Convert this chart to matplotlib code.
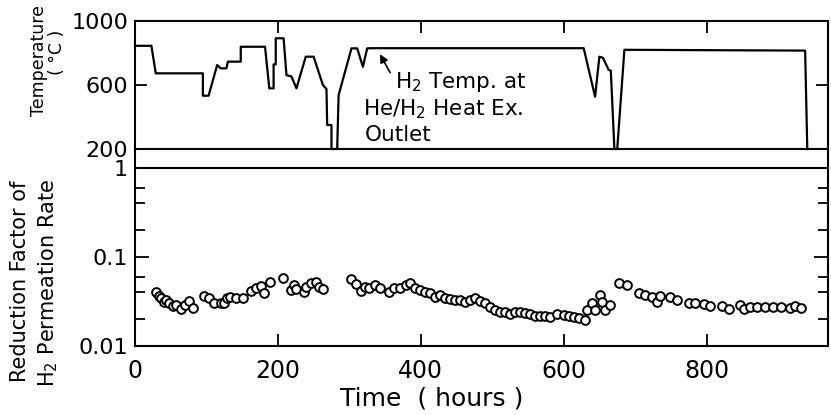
import matplotlib
matplotlib.use("Agg")
import matplotlib.pyplot as plt
from matplotlib.lines import Line2D
from matplotlib.ticker import FixedLocator, NullFormatter

# temperature trace (hours, deg C)
temp_hours = [0, 23, 29, 95, 95, 103, 115, 120, 128, 130, 148, 148, 182, 188, 194, 194,
              197, 197, 208, 212, 219, 226, 239, 250, 263, 268, 269, 275, 275, 283,
              285, 303, 311, 319, 325, 330, 628, 644, 650, 655, 663, 666, 671, 675,
              685, 938, 941]
temp_c = [845, 845, 673, 673, 533, 533, 725, 704, 704, 746, 746, 839, 839, 579, 579, 729,
          729, 892, 892, 662, 653, 579, 777, 777, 600, 575, 350, 350, 200, 200,
          537, 829, 829, 714, 829, 830, 830, 527, 777, 770, 694, 690, 200, 200,
          820, 815, 200]

# reduction factor of H2 permeation rate
rf_hours = [30, 33, 37, 40, 44, 48, 53, 58, 64, 70, 76, 81,
            97, 103, 111, 120, 125, 129, 133, 141, 151,
            163, 169, 176, 181, 189,
            207, 219, 222, 226, 236, 240, 247, 254, 257, 263,
            303, 310, 317, 322, 327, 336, 343, 355, 362, 371, 380, 385, 392, 399,
            406, 413, 420, 427, 434, 441, 448, 455, 462, 469, 476, 483, 490, 497,
            504, 511, 518, 525, 532, 539, 546, 553, 560, 567, 574, 581, 590, 600,
            607, 614, 621, 630,
            632, 639, 644, 651, 653, 658, 665,
            677, 688, 705, 714, 723, 730, 735, 749, 759, 775, 784, 796, 805, 821,
            832, 847, 852, 861, 870, 882, 893, 904, 917, 924, 932]
rf_values = [0.0407, 0.0365, 0.0344, 0.0315, 0.0329, 0.0302, 0.0281, 0.0289, 0.0262, 0.0289, 0.0320, 0.0269,
             0.0365, 0.0344, 0.0307, 0.0302, 0.0307, 0.0344, 0.0358, 0.0344, 0.0344,
             0.0418, 0.0445, 0.0472, 0.0391, 0.0528,
             0.0576, 0.0426, 0.0485, 0.0434, 0.0407, 0.0457, 0.0506, 0.0528, 0.0464, 0.0434,
             0.0562, 0.0494, 0.0418, 0.0464, 0.0445, 0.0485, 0.0445, 0.0407, 0.0445, 0.0445,
             0.0485, 0.0506, 0.0445, 0.0426,
             0.0407, 0.0391, 0.0352, 0.0374, 0.0344, 0.0335, 0.0329, 0.0329, 0.0315, 0.0329,
             0.0344, 0.0323, 0.0302, 0.0276,
             0.0254, 0.0243, 0.0243, 0.0229, 0.0243, 0.0243, 0.0233, 0.0229, 0.0217, 0.0217,
             0.0217, 0.0213, 0.0229, 0.0223,
             0.0217, 0.0213, 0.0205, 0.0196,
             0.0254, 0.0302, 0.0254, 0.0374, 0.0315, 0.0254, 0.0289,
             0.0506, 0.0485, 0.0397, 0.0374, 0.0358, 0.0315, 0.0365, 0.0358, 0.0329, 0.0307,
             0.0302, 0.0296, 0.0281, 0.0281,
             0.0262, 0.0289, 0.0258, 0.0272, 0.0276, 0.0272, 0.0272, 0.0276, 0.0265, 0.0281, 0.0265]

x_ticks = [0, 200, 400, 600, 800]
temp_ticks = [200, 600, 1000]
rf_ticks = [0.01, 0.1, 1]
rf_tick_labels = ["0.01", "0.1", "1"]
rf_minor = [0.02, 0.04, 0.06, 0.2, 0.4, 0.6]

W, H = 831, 415
L, R = 135, 828

fig = plt.figure(figsize=(W / 100, H / 100), dpi=100)
ax_t = fig.add_axes([L / W, 1 - 149 / H, (R - L) / W, 128 / H])
ax_b = fig.add_axes([L / W, 1 - 346 / H, (R - L) / W, 178 / H])

for ax in (ax_t, ax_b):
    for s in ax.spines.values():
        s.set_linewidth(1.5)
    ax.set_xlim(0, 970)
    ax.set_xticks(x_ticks)

# upper panel: temperature
ax_t.plot(temp_hours, temp_c, color="black", lw=1.6, clip_on=False)
ax_t.set_ylim(200, 1000)
ax_t.set_yticks(temp_ticks)
ax_t.tick_params(axis="x", direction="in", top=True, bottom=False,
                 labelbottom=False, length=8.5, width=1.3)
ax_t.tick_params(axis="y", direction="in", right=True, length=8.5, width=1.3,
                 labelsize=16, pad=5)

ax_t.annotate("", xy=(341, 808), xytext=(359, 662),
              arrowprops=dict(arrowstyle="-|>", color="black", lw=1.2,
                              mutation_scale=12))
ax_t.text(364, 581, "H$_2$ Temp. at", fontsize=15.5, ha="left", va="baseline")
ax_t.text(319, 412, "He/H$_2$ Heat Ex.", fontsize=15.5, ha="left", va="baseline")
ax_t.text(322, 250, "Outlet", fontsize=15.5, ha="left", va="baseline")

# lower panel: reduction factor
ax_b.plot(rf_hours, rf_values, "o", mfc="white", mec="black", mew=1.4, ms=6.3,
          ls="none", clip_on=False)
ax_b.set_yscale("log")
ax_b.set_ylim(0.01, 1)
ax_b.set_yticks(rf_ticks)
ax_b.set_yticklabels(rf_tick_labels)
ax_b.yaxis.set_minor_locator(FixedLocator(rf_minor))
ax_b.yaxis.set_minor_formatter(NullFormatter())
ax_b.set_xticklabels([str(t) for t in x_ticks])
ax_b.tick_params(axis="x", direction="in", length=9, width=1.3, labelsize=17, pad=9)
ax_b.tick_params(axis="y", which="major", direction="in", right=True, length=10,
                 width=1.3, labelsize=16, pad=5)
ax_b.tick_params(axis="y", which="minor", direction="in", right=True, length=7,
                 width=1.3)

# side lines through the gap between the two panels
for xp in (L, R):
    fig.add_artist(Line2D([xp / W, xp / W], [1 - 149 / H, 1 - 168 / H],
                          color="black", lw=1.5, transform=fig.transFigure))

fig.text(39 / W, 1 - 60 / H, "Temperature", rotation=90, fontsize=12.5,
         ha="center", va="center")
fig.text(57 / W, 1 - 52 / H, "( °C )", rotation=90, fontsize=12.5,
         ha="center", va="center")
fig.text(20 / W, 1 - 281 / H, "Reduction Factor of", rotation=90, fontsize=15,
         ha="center", va="center")
fig.text(48 / W, 1 - 283 / H, "H$_2$ Permeation Rate", rotation=90, fontsize=15,
         ha="center", va="center")
fig.text(432 / W, 1 - 398 / H, "Time  ( hours )", fontsize=18,
         ha="center", va="center")

fig.savefig("out.png", dpi=100)
